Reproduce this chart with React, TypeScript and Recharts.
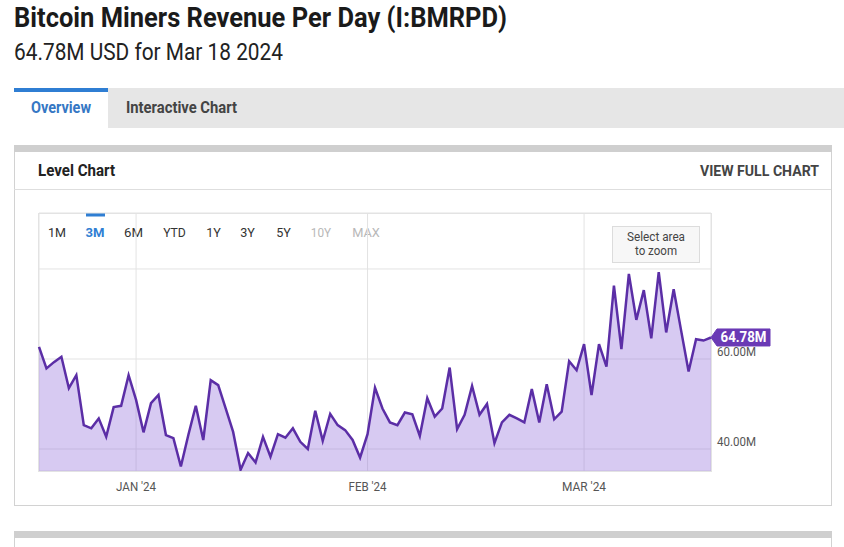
import React from "react";
import { AreaChart, Area, XAxis, YAxis, CartesianGrid } from "recharts";

const dates: string[] = [
  "2023-12-19","2023-12-20","2023-12-21","2023-12-22","2023-12-23","2023-12-24","2023-12-25","2023-12-26","2023-12-27","2023-12-28","2023-12-29","2023-12-30","2023-12-31",
  "2024-01-01","2024-01-02","2024-01-03","2024-01-04","2024-01-05","2024-01-06","2024-01-07","2024-01-08","2024-01-09","2024-01-10","2024-01-11","2024-01-12","2024-01-13","2024-01-14","2024-01-15","2024-01-16","2024-01-17","2024-01-18","2024-01-19","2024-01-20","2024-01-21","2024-01-22","2024-01-23","2024-01-24","2024-01-25","2024-01-26","2024-01-27","2024-01-28","2024-01-29","2024-01-30","2024-01-31",
  "2024-02-01","2024-02-02","2024-02-03","2024-02-04","2024-02-05","2024-02-06","2024-02-07","2024-02-08","2024-02-09","2024-02-10","2024-02-11","2024-02-12","2024-02-13","2024-02-14","2024-02-15","2024-02-16","2024-02-17","2024-02-18","2024-02-19","2024-02-20","2024-02-21","2024-02-22","2024-02-23","2024-02-24","2024-02-25","2024-02-26","2024-02-27","2024-02-28","2024-02-29",
  "2024-03-01","2024-03-02","2024-03-03","2024-03-04","2024-03-05","2024-03-06","2024-03-07","2024-03-08","2024-03-09","2024-03-10","2024-03-11","2024-03-12","2024-03-13","2024-03-14","2024-03-15","2024-03-16","2024-03-17","2024-03-18",
];

// Revenue in millions of USD
const revenue: number[] = [
  62.7, 57.9, 59.3, 60.5, 53.5, 56.4, 45.3, 44.6, 46.8, 42.7, 49.3, 49.6, 56.4,
  50.9, 43.7, 50.2, 52.0, 43.1, 42.4, 36.1, 43.1, 49.6, 42.0, 55.3, 54.2, 49.0, 43.8, 35.4, 39.1, 37.0, 42.7, 38.3, 43.3, 42.5, 44.6, 41.6, 40.0, 48.5, 41.8, 47.8, 45.3,
  44.2, 42.0, 38.1, 43.3, 53.6, 49.0, 45.9, 45.3, 48.1, 47.7, 42.9, 51.3, 47.2, 49.0, 58.1, 44.4, 47.6, 54.0, 47.6, 50.0, 41.3, 45.9, 47.6, 46.8, 45.9, 53.3, 45.9, 54.4,
  46.6, 48.3, 59.5, 57.5, 63.3, 52.0, 63.3, 58.3, 76.3, 62.2, 78.9, 68.7, 75.3, 64.6, 79.3, 65.9, 75.5, 66.3, 57.2, 64.4, 64.1, 64.78,
];

const monthTicks: string[] = ["2024-01-01", "2024-02-01", "2024-03-01"];
const monthTickLabels: string[] = ["JAN '24", "FEB '24", "MAR '24"];
const monthLabelWidths: number[] = [40, 38, 44];
const yTicks: number[] = [40, 60, 80];
const yTickLabels: string[] = ["40.00M", "60.00M", ""];
const rangeButtons: string[] = ["1M", "3M", "6M", "YTD", "1Y", "3Y", "5Y", "10Y", "MAX"];
const rangeCenters: number[] = [57, 95, 133.5, 174.5, 213.5, 247.5, 283.5, 321, 366];
const rangeWidths: number[] = [18, 19, 19, 22.7, 14.7, 14.7, 14.7, 20.3, 27.7];
const rangeState: string[] = ["n", "a", "n", "n", "n", "n", "n", "d", "d"];

const data = dates.map((d, i) => ({ date: d, value: revenue[i] }));

const FONT = "Roboto, 'Noto Sans', Arial, sans-serif";
const LINE = "#5b2ea6";
const FLAG = "#6a3ab5";

const XTick = (props: any) => {
  const { x, y, payload } = props;
  const idx = monthTicks.indexOf(payload.value);
  if (idx < 0) return null;
  return (
    <text x={x} y={y + 20} textAnchor="middle" fontFamily={FONT} fontSize={13} fill="#555"
      textLength={monthLabelWidths[idx]} lengthAdjust="spacingAndGlyphs">
      {monthTickLabels[idx]}
    </text>
  );
};

const YTick = (props: any) => {
  const { x, y, payload } = props;
  const idx = yTicks.indexOf(payload.value);
  const label = idx >= 0 ? yTickLabels[idx] : "";
  if (!label) return null;
  return (
    <text x={x} y={y - 3} textAnchor="start" fontFamily={FONT} fontSize={13} fill="#555"
      textLength={39} lengthAdjust="spacingAndGlyphs">
      {label}
    </text>
  );
};

const FlagLabel = (props: any) => {
  const { x, y, index } = props;
  if (index !== revenue.length - 1) return null;
  const h = 8.5;
  const pts = `${x},${y} ${x + 6},${y - h} ${x + 59},${y - h} ${x + 59},${y + h} ${x + 6},${y + h}`;
  return (
    <g>
      <polygon points={pts} fill={FLAG} stroke={FLAG} strokeWidth={1} strokeLinejoin="round" />
      <text x={x + 32.5} y={y + 5} textAnchor="middle" fontFamily={FONT} fontWeight={700} fontSize={14}
        fill="#fff" textLength={46} lengthAdjust="spacingAndGlyphs">
        {revenue[revenue.length - 1].toFixed(2) + "M"}
      </text>
    </g>
  );
};

const T = (p: any) => (
  <text x={p.x} y={p.y} fontFamily={FONT} fontSize={p.size} fontWeight={p.bold ? 700 : 400}
    fill={p.fill} textAnchor={p.anchor || "start"} textLength={p.w} lengthAdjust="spacingAndGlyphs">
    {p.children}
  </text>
);

export default function App() {
  return (
    <div style={{ position: "absolute", left: 0, top: 0, width: 844, height: 547, background: "#fff", overflow: "hidden" }}>
      <svg width={844} height={547} style={{ position: "absolute", left: 0, top: 0 }}>
        <T x={14} y={27} size={28} bold fill="#1a1a1a" w={493}>Bitcoin Miners Revenue Per Day (I:BMRPD)</T>
        <T x={14} y={60} size={24} fill="#222" w={269}>64.78M USD for Mar 18 2024</T>

        <rect x={14} y={88} width={830} height={40} fill="#e6e6e6" />
        <rect x={14} y={88} width={94} height={40} fill="#fff" />
        <rect x={14} y={88} width={94} height={4} fill="#2f7ed3" />
        <T x={31} y={113} size={16} bold fill="#3577c4" w={60}>Overview</T>
        <T x={126} y={113} size={16} bold fill="#444" w={111}>Interactive Chart</T>

        <rect x={14.5} y={145.5} width={817} height={360} fill="#fff" stroke="#d2d2d2" />
        <rect x={14} y={145} width={818} height={7} fill="#cfcfcf" />
        <T x={38} y={176} size={16} bold fill="#222" w={77}>Level Chart</T>
        <T x={819} y={176} size={15} bold fill="#444" anchor="end" w={119}>VIEW FULL CHART</T>
        <line x1={14} x2={831} y1={189.5} y2={189.5} stroke="#dedede" />

        <rect x={38.5} y={213.5} width={673} height={258} fill="none" stroke="#e3e3e3" />
        {rangeButtons.map((b, i) => (
          <T key={b} x={rangeCenters[i]} y={237} size={13.5} bold={rangeState[i] === "a"} anchor="middle"
            fill={rangeState[i] === "a" ? "#2f7ed3" : rangeState[i] === "d" ? "#b8b8b8" : "#333"} w={rangeWidths[i]}>
            {b}
          </T>
        ))}
        <rect x={86} y={213} width={19} height={3.5} fill="#2f7ed3" />

        <rect x={14.5} y={531.5} width={817} height={30} fill="#fff" stroke="#d2d2d2" />
        <rect x={14} y={531} width={818} height={7} fill="#cfcfcf" />
      </svg>

      <div style={{ position: "absolute", left: 0, top: 0 }}>
        <AreaChart width={844} height={547} data={data} margin={{ top: 213, left: 39, right: 0, bottom: 46 }}>
          <CartesianGrid stroke="#e3e3e3" strokeWidth={1} />
          <XAxis dataKey="date" scale="point" padding={{ left: 0, right: 0 }} ticks={monthTicks} interval={0}
            axisLine={false} tickLine={false} tickSize={0} tickMargin={0} height={30} tick={<XTick />} />
          <YAxis orientation="right" width={133} domain={[35.11, 92.44]} ticks={yTicks} allowDataOverflow
            axisLine={false} tickLine={false} tickSize={0} tickMargin={6} tick={<YTick />} />
          <Area type="linear" dataKey="value" stroke={LINE} strokeWidth={2.5} fill="#906dda" fillOpacity={0.36}
            dot={false} activeDot={false} isAnimationActive={false} label={<FlagLabel />} />
        </AreaChart>
      </div>

      <svg width={844} height={547} style={{ position: "absolute", left: 0, top: 0, pointerEvents: "none" }}>
        <rect x={612.5} y={226.5} width={87} height={36} fill="#f7f7f7" stroke="#dcdcdc" />
        <T x={656} y={241} size={12.5} fill="#444" anchor="middle" w={58}>Select area</T>
        <T x={656} y={255} size={12.5} fill="#444" anchor="middle" w={42}>to zoom</T>
      </svg>
    </div>
  );
}
